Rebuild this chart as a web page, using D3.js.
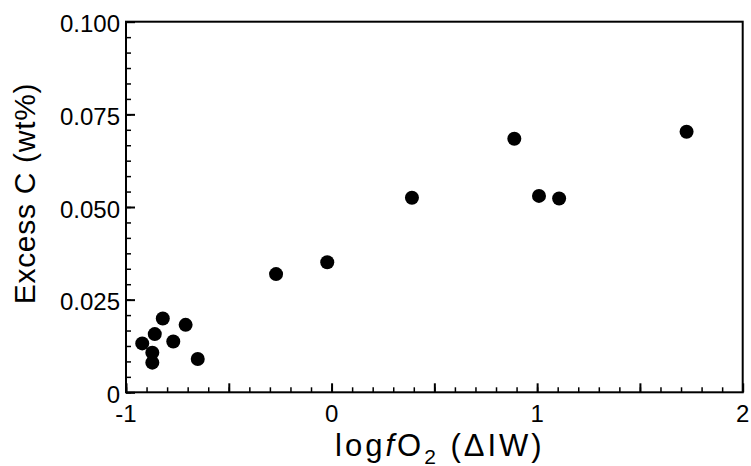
<!DOCTYPE html>
<html><head><meta charset="utf-8">
<script src="https://cdn.jsdelivr.net/npm/d3@7"></script>
<style>body{margin:0;background:#fff}svg{display:block}</style>
</head><body>
<script>
const xVals = [-0.921,-0.872,-0.872,-0.860,-0.821,-0.770,-0.710,-0.651,-0.270,-0.021,0.391,0.889,1.009,1.107,1.727];
const yVals = [0.0132,0.0080,0.0107,0.0157,0.0199,0.0137,0.0182,0.0090,0.0319,0.0351,0.0525,0.0684,0.0530,0.0523,0.0703];
const xTickLabels = ["-1","0","1","2"];
const yTickLabels = ["0","0.025","0.050","0.075","0.100"];

const W=751,H=466;
const m={l:126,t:21.7,r:742.7,b:392.3};
const svg=d3.select("body").append("svg").attr("width",W).attr("height",H);
const x=d3.scaleLinear().domain([-1,2]).range([m.l,m.r]);
const y=d3.scaleLinear().domain([0,0.1]).range([m.b,m.t]);
const font="'Liberation Sans', Arial, sans-serif";

// minor ticks
const xMinor=d3.range(-1,2.0001,0.1).map(v=>+v.toFixed(2));
const yMinor=d3.range(0,0.10001,0.025/6);
svg.append("g").attr("transform",`translate(0,${m.b})`)
  .call(d3.axisBottom(x).tickValues(xMinor).tickSize(-5).tickFormat(""))
  .call(g=>{g.select(".domain").remove();g.selectAll("line").attr("stroke","#000").attr("stroke-width",1.5);});
svg.append("g").attr("transform",`translate(${m.l},0)`)
  .call(d3.axisLeft(y).tickValues(yMinor).tickSize(-5).tickFormat(""))
  .call(g=>{g.select(".domain").remove();g.selectAll("line").attr("stroke","#000").attr("stroke-width",1.5);});

// major ticks
svg.append("g").attr("transform",`translate(0,${m.b})`)
  .call(d3.axisBottom(x).tickValues([-1,-0.5,0,0.5,1,1.5,2]).tickSize(-9).tickFormat(""))
  .call(g=>{g.select(".domain").remove();g.selectAll("line").attr("stroke","#000").attr("stroke-width",2);});
svg.append("g").attr("transform",`translate(${m.l},0)`)
  .call(d3.axisLeft(y).tickValues([0,0.025,0.05,0.075,0.1]).tickSize(-9).tickFormat(""))
  .call(g=>{g.select(".domain").remove();g.selectAll("line").attr("stroke","#000").attr("stroke-width",2);});

// tick labels
const xLabVals=[-1,0,1,2];
svg.append("g").selectAll("text").data(xLabVals).join("text")
  .attr("x",d=>x(d)).attr("y",422).attr("text-anchor","middle")
  .attr("font-family",font).attr("font-size",24).text((d,i)=>xTickLabels[i]);
const yLabVals=[0,0.025,0.05,0.075,0.1];
svg.append("g").selectAll("text").data(yLabVals).join("text")
  .attr("x",120).attr("y",d=>y(d)+10.5).attr("text-anchor","end")
  .attr("font-family",font).attr("font-size",24).text((d,i)=>yTickLabels[i]);

// frame
svg.append("rect").attr("x",m.l).attr("y",m.t).attr("width",m.r-m.l).attr("height",m.b-m.t)
  .attr("fill","none").attr("stroke","#000").attr("stroke-width",2);

// points
svg.append("g").selectAll("circle").data(xVals.map((v,i)=>[v,yVals[i]])).join("circle")
  .attr("cx",d=>x(d[0])).attr("cy",d=>y(d[1])).attr("r",7).attr("fill","#000");

// axis titles
const xt=svg.append("text").attr("x",335).attr("y",455.5).attr("text-anchor","start")
  .attr("font-family",font).attr("font-size",31).attr("letter-spacing",3);
xt.append("tspan").text("log");
xt.append("tspan").attr("font-style","italic").text("f");
xt.append("tspan").text("O");
xt.append("tspan").attr("font-size",21).attr("dy",8).text("2");
xt.append("tspan").attr("dy",-8).text(" (\u0394IW)");

svg.append("text").attr("transform",`translate(35,193.5) rotate(-90)`)
  .attr("text-anchor","middle").attr("font-family",font).attr("font-size",30).attr("letter-spacing",0.7).text("Excess C (wt%)");
</script>
</body></html>
